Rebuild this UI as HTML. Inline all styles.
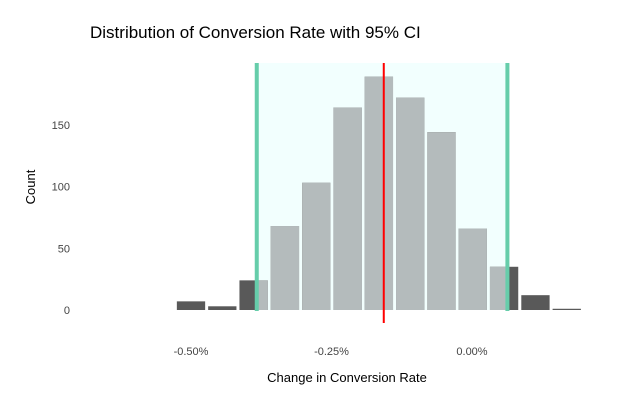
<!DOCTYPE html>
<html><head><meta charset="utf-8"><style>
body{margin:0;background:#fff;}
svg text{font-family:"Liberation Sans",sans-serif;}
</style></head><body>
<svg id="c" width="630" height="405">
<text x="90" y="38" font-size="17" fill="#000">Distribution of Conversion Rate with 95% CI</text>
<text x="0" y="0" transform="translate(35,187) rotate(-90)" text-anchor="middle" font-size="13">Count</text>
<text x="347" y="382" text-anchor="middle" font-size="13">Change in Conversion Rate</text>
</svg>
<script>
const binCenters=[-0.50,-0.4443,-0.3886,-0.3329,-0.2771,-0.2214,-0.1657,-0.11,-0.0543,0.0014,0.0571,0.1129,0.1686];
const counts=[7,3,24,68,103,164,189,172,144,66,35,12,1];
const xTicks=[-0.50,-0.25,0.00];
const xTickLabels=["-0.50%","-0.25%","0.00%"];
const yTicks=[0,50,100,150];
const ciLow=-0.383, ciHigh=0.063, meanVal=-0.157;
const binWidth=0.0557;
const NS="http://www.w3.org/2000/svg";
const svg=document.getElementById('c');
const xs=v=>191+(v+0.5)*562;
const ys=v=>310-v*1.235;
function mk(t,a){const e=document.createElementNS(NS,t);for(const k in a)e.setAttribute(k,a[k]);svg.appendChild(e);return e;}
// CI band
let band=mk('rect',{x:xs(ciLow),y:63,width:xs(ciHigh)-xs(ciLow),height:247,fill:'#f2fffe'});


yTicks.forEach(t=>{let e=mk('text',{x:70,y:ys(t)+4,'text-anchor':'end','font-size':11,fill:'#444'});e.textContent=t;

});
xTicks.forEach((t,i)=>{let e=mk('text',{x:xs(t),y:355,'text-anchor':'middle','font-size':11,fill:'#444'});e.textContent=xTickLabels[i];

});
const gap=0.3/31.3*binWidth*10;
binCenters.forEach((c,i)=>{
 const x0=xs(c-binWidth/2)+1.5, x1=xs(c+binWidth/2)-1.5, y=ys(counts[i]), h=310-y;
 let b=mk('rect',{x:x0,y:y,width:x1-x0,height:h,fill:'#595959'});
 
 
 const lx0=Math.max(x0,xs(ciLow)), lx1=Math.min(x1,xs(ciHigh));
 if(lx1>lx0){let l=mk('rect',{x:lx0,y:y,width:lx1-lx0,height:h,fill:'#b4bbbc'});
 
 }
});
[ciLow,ciHigh].forEach(v=>{let l=mk('line',{x1:xs(v),x2:xs(v),y1:63,y2:311,stroke:'#66cdaa','stroke-width':4});

});
let m=mk('line',{x1:xs(meanVal),x2:xs(meanVal),y1:63,y2:323,stroke:'#ff0000','stroke-width':2});


</script>
</body></html>
